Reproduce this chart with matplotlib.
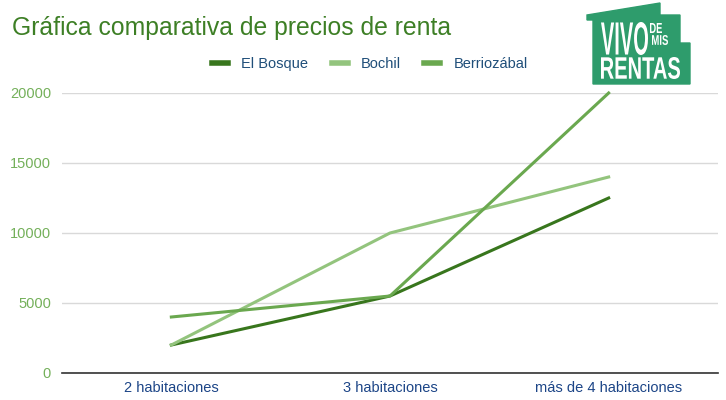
import matplotlib.pyplot as plt
from matplotlib.patches import Polygon, PathPatch
from matplotlib.textpath import TextPath
from matplotlib.font_manager import FontProperties
from matplotlib.transforms import Affine2D, IdentityTransform

plt.rcParams['font.family'] = ['Liberation Sans', 'DejaVu Sans']

# datos
categorias = ['2 habitaciones', '3 habitaciones', 'más de 4 habitaciones']
el_bosque = [2000, 5500, 12500]
bochil = [2000, 10000, 14000]
berriozabal = [4000, 5500, 20000]
y_ticks = [0, 5000, 10000, 15000, 20000]

W, H = 726, 400
fig = plt.figure(figsize=(W / 100, H / 100), dpi=100)
ax = fig.add_axes([62 / W, 1 - 373 / H, 656 / W, 280 / H])

x = range(len(categorias))
ax.plot(x, el_bosque, color='#38761d', lw=2.2, label='El Bosque', clip_on=False)
ax.plot(x, bochil, color='#93c47d', lw=2.2, label='Bochil', clip_on=False)
ax.plot(x, berriozabal, color='#6aa84f', lw=2.2, label='Berriozábal', clip_on=False)

ax.set_xlim(-0.5, 2.5)
ax.set_ylim(0, 20000)
ax.set_yticks(y_ticks)
ax.set_yticklabels([str(v) for v in y_ticks])
ax.set_xticks(list(x))
ax.set_xticklabels(categorias)
ax.tick_params(axis='y', colors='#74b05a', labelsize=10.5, length=0, pad=8)
ax.tick_params(axis='x', colors='#1c4587', labelsize=10.5, length=0, pad=6)
ax.grid(axis='y', color='#d9d9d9', lw=1)
ax.set_axisbelow(True)
for s in ['top', 'right', 'left']:
    ax.spines[s].set_visible(False)
ax.spines['bottom'].set_color('#333333')
ax.spines['bottom'].set_linewidth(1.2)

fig.text(12 / W, 1 - 28 / H, 'Gráfica comparativa de precios de renta',
         color='#3d7f25', fontsize=17.8, va='center', ha='left')

leg = fig.legend(loc='center', bbox_to_anchor=(370 / W, 1 - 64 / H), ncol=3,
                 frameon=False, fontsize=10.5, handlelength=1.1, columnspacing=1.6,
                 handletextpad=0.9)
for t in leg.get_texts():
    t.set_color('#1f4e79')
for h in leg.get_lines():
    h.set_linewidth(4)

# logo
pts = [(587, 15), (660, 3), (660, 15), (680, 15), (680, 43), (690, 43),
       (690, 84), (593, 84), (593, 20), (587, 20)]
logo = Polygon([(px / W, 1 - py / H) for px, py in pts], closed=True,
               transform=fig.transFigure, color='#2e9c6c')
fig.patches.append(logo)

fp = FontProperties(family='Liberation Sans', weight='bold')


def logo_text(s, x0, y0, x1, y1):
    tp = TextPath((0, 0), s, size=10, prop=fp)
    ext = tp.get_extents()
    sx = (x1 - x0) / ext.width
    sy = (y1 - y0) / ext.height
    tr = Affine2D().translate(-ext.x0, -ext.y0).scale(sx, sy).translate(x0, H - y1)
    fig.patches.append(PathPatch(tr.transform_path(tp), color='white', lw=0,
                                 transform=IdentityTransform()))


logo_text('VIVO', 601, 22, 648, 55)
logo_text('DE', 650, 23, 662, 33)
logo_text('MIS', 652, 35, 668, 45)
logo_text('RENTAS', 601, 57, 680, 79)

fig.savefig('out.png', dpi=100)
